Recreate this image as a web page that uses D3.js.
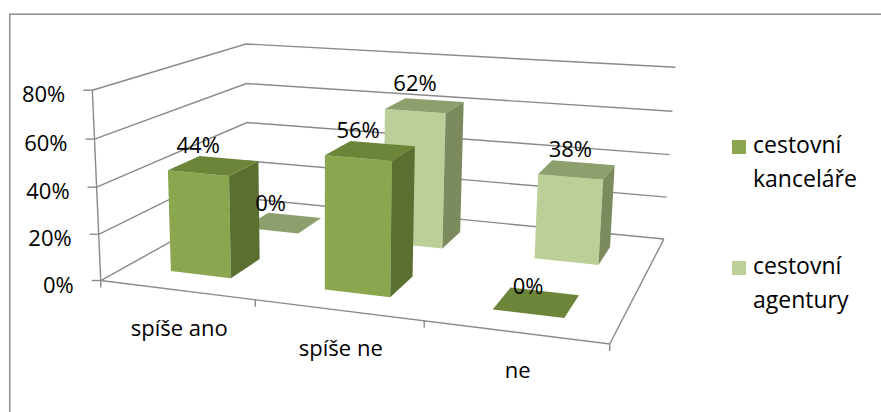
<!DOCTYPE html>
<html><head><meta charset="utf-8">
<script src="https://cdn.jsdelivr.net/npm/d3@7"></script>
<style>html,body{margin:0;padding:0;background:#fff}svg{display:block}text{font-family:"Open Sans",sans-serif;fill:#000}</style>
</head><body>
<svg id="c" width="881" height="412"></svg>
<script>
// ---- data ----
const categories = ["spíše ano", "spíše ne", "ne"];
const seriesNames = ["cestovní kanceláře", "cestovní agentury"];
const kancelare = [0.44, 0.56, 0.00];
const agentury = [0.00, 0.62, 0.38];
const valueTicks = [0, 0.2, 0.4, 0.6, 0.8];
const tickLabels = ["0%", "20%", "40%", "60%", "80%"];
const legendLines = [["cestovní", "kanceláře"], ["cestovní", "agentury"]];

// ---- styles ----
const faceColors = [
  {front: "#8aa64f", side: "#5b6f31", top: "#6c8539"},
  {front: "#bccf99", side: "#7c8b5e", top: "#8e9f6e"}
];
const gridColor = "#8a8a8a";

// ---- camera calibration for the 3D plot box (u: category axis, w: depth, z: height 0..1) ----
const calib = [
  [0,0,0,102,279],[1,0,0,610,343],[1,1,0,664,238],[0,1,0,247,200],
  [1/3,0,0,255,300],[2/3,0,0,424,323],
  [0,0,.25,99.3,234],[0,0,.5,96.7,188],[0,0,.75,93.3,138],[0,0,1,91.7,91],
  [0,1,.25,247,161],[0,1,.5,247,122],[0,1,.75,247,83],[0,1,1,247,44],
  [1,1,.25,667,197],[1,1,.5,670,155],[1,1,.75,672,112],[1,1,1,675,67]
];
const NX = 400, NY = 200, NS = 300;
function fitCamera(pts){
  const n = 11, M = Array.from({length:n},()=>new Array(n+1).fill(0));
  const rows = [];
  for (const [X,Y,Z,px,py] of pts){
    const x=(px-NX)/NS, y=(py-NY)/NS;
    rows.push([[X,Y,Z,1,0,0,0,0,-x*X,-x*Y,-x*Z], x]);
    rows.push([[0,0,0,0,X,Y,Z,1,-y*X,-y*Y,-y*Z], y]);
  }
  for (const [a,b] of rows){
    for (let i=0;i<n;i++){ for (let j=0;j<n;j++) M[i][j]+=a[i]*a[j]; M[i][n]+=a[i]*b; }
  }
  for (let i=0;i<n;i++){
    let piv=i; for (let r=i+1;r<n;r++) if (Math.abs(M[r][i])>Math.abs(M[piv][i])) piv=r;
    [M[i],M[piv]]=[M[piv],M[i]];
    for (let r=0;r<n;r++){ if(r===i) continue; const f=M[r][i]/M[i][i]; for (let c=i;c<=n;c++) M[r][c]-=f*M[i][c]; }
  }
  return M.map((r,i)=>r[n]/r[i]);
}
const P = fitCamera(calib);
function proj(u,w,z){
  const d = P[8]*u+P[9]*w+P[10]*z+1;
  return [ (P[0]*u+P[1]*w+P[2]*z+P[3])/d*NS+NX, (P[4]*u+P[5]*w+P[6]*z+P[7])/d*NS+NY ];
}

// ---- scales ----
const xBand = d3.scaleBand().domain(categories).range([0,1]);
const dBand = d3.scaleBand().domain(seriesNames).range([0,1]);
const zScale = d3.scaleLinear().domain([0,0.8]).range([0,1]);
const fmt = d3.format(".0%");

const svg = d3.select("#c");
svg.append("rect").attr("width",881).attr("height",412).attr("fill","#fff");
// chart frame (only top and left edges fall inside the picture)
svg.append("path").attr("d","M9.75,412V14.25H881").attr("fill","none").attr("stroke","#8c8c8c").attr("stroke-width",1.5);

const line = d3.line();
const g = svg.append("g");
// walls gridlines
valueTicks.forEach(t=>{
  const z = zScale(t);
  g.append("path").attr("d", line([proj(0,0,z),proj(0,1,z),proj(1,1,z)]))
    .attr("fill","none").attr("stroke",gridColor).attr("stroke-width",1.4);
});
// floor front and right edges, value axis line
g.append("path").attr("d", line([proj(0,0,0),proj(1,0,0),proj(1,1,0)])).attr("fill","none").attr("stroke",gridColor).attr("stroke-width",1.4);
g.append("path").attr("d", line([proj(0,0,0),proj(0,0,1)])).attr("fill","none").attr("stroke",gridColor).attr("stroke-width",1.4);
// value ticks + labels
valueTicks.forEach((t,i)=>{
  const p = proj(0,0,zScale(t));
  g.append("path").attr("d", line([[p[0]-9,p[1]],p])).attr("stroke",gridColor).attr("stroke-width",1.4);
  g.append("text").attr("x",p[0]-27).attr("y",p[1]+12).attr("text-anchor","end").attr("font-size",22).text(tickLabels[i]);
});
// category ticks
const tickUs = categories.map(c=>xBand(c)).concat([1]);
tickUs.forEach(u=>{
  const p = proj(u,0,0);
  g.append("path").attr("d", line([p,[p[0],p[1]+7]])).attr("stroke",gridColor).attr("stroke-width",1.4);
});
// category labels
categories.forEach(c=>{
  const p = proj(xBand(c)+xBand.bandwidth()/2,0,0);
  g.append("text").attr("x",p[0]+3).attr("y",p[1]+46).attr("text-anchor","middle").attr("font-size",22).text(c);
});

// ---- bars ----
const series = [kancelare, agentury];
const bars = [];
seriesNames.forEach((s,si)=>{
  categories.forEach((c,ci)=>{
    const bw = xBand.bandwidth(), dw = dBand.bandwidth();
    bars.push({si, ci, v: series[si][ci],
      u0: xBand(c)+0.3*bw, u1: xBand(c)+0.7*bw,
      w0: dBand(s)+0.3*dw, w1: dBand(s)+0.7*dw});
  });
});
bars.sort((a,b)=> (b.si-a.si) || (a.ci-b.ci));
const bg = svg.append("g");
bars.forEach(b=>{
  const z = zScale(b.v), col = faceColors[b.si];
  const poly = pts => bg.append("path").attr("d", line(pts.map(q=>proj(...q)))+"Z");
  if (z > 0){
    poly([[b.u0,b.w0,0],[b.u1,b.w0,0],[b.u1,b.w0,z],[b.u0,b.w0,z]]).attr("fill",col.front);
    poly([[b.u1,b.w0,0],[b.u1,b.w1,0],[b.u1,b.w1,z],[b.u1,b.w0,z]]).attr("fill",col.side);
  }
  poly([[b.u0,b.w0,z],[b.u1,b.w0,z],[b.u1,b.w1,z],[b.u0,b.w1,z]]).attr("fill",col.top);
});
// data labels
bars.forEach(b=>{
  const p = proj((b.u0+b.u1)/2, b.w0, zScale(b.v));
  svg.append("text").attr("x",p[0]).attr("y",p[1]-20).attr("text-anchor","middle").attr("font-size",22).text(fmt(b.v));
});

// ---- legend ----
const lg = svg.append("g");
seriesNames.forEach((s,i)=>{
  const y0 = 140 + i*121;
  lg.append("rect").attr("x",732).attr("y",y0).attr("width",14).attr("height",14).attr("fill",faceColors[i].front);
  lg.append("text").attr("x",753).attr("y",y0+13).attr("font-size",23).text(legendLines[i][0]);
  lg.append("text").attr("x",753).attr("y",y0+47).attr("font-size",23).text(legendLines[i][1]);
});
</script>
</body></html>
